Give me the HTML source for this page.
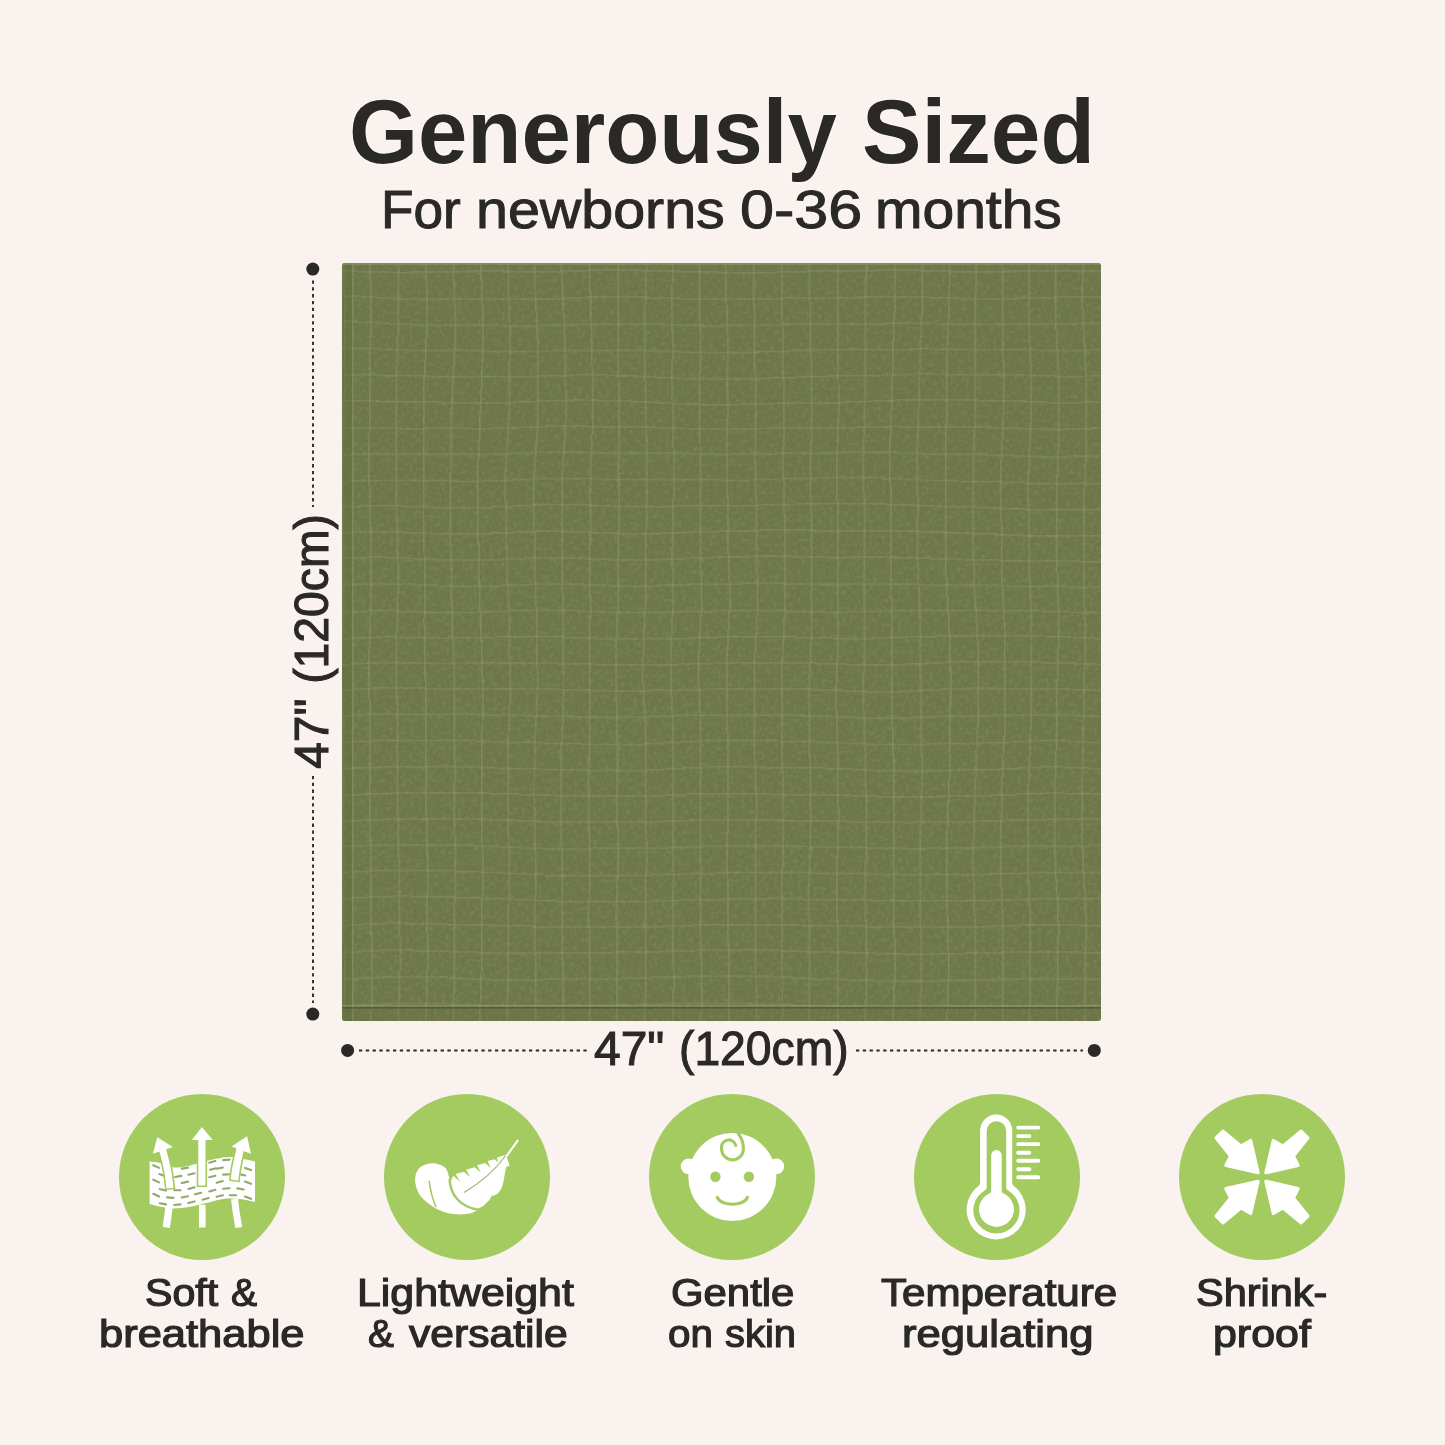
<!DOCTYPE html>
<html><head><meta charset="utf-8">
<style>
html,body{margin:0;padding:0;}
body{width:1445px;height:1445px;overflow:hidden;background:#faf2ee;position:relative;font-family:"Liberation Sans",sans-serif;color:#2a2928;}
.t{position:absolute;white-space:nowrap;line-height:1;transform-origin:0 0;text-shadow:0 0 2px #fffdf8,0 0 2px #fffdf8;}
.abs,.ic{position:absolute;}
#muslin{position:absolute;left:342px;top:263px;}
#rot{position:absolute;left:0;top:0;width:1445px;height:1445px;transform-origin:312.9px 1049.9px;transform:rotate(-90deg);}
</style></head><body>
<div class="t" style="left:349.1px;top:86.8px;font-size:90px;font-weight:bold;transform:scaleX(0.9849)">Generously</div><div class="t" style="left:862.1px;top:86.8px;font-size:90px;font-weight:bold;transform:scaleX(0.9907)">Sized</div>
<div class="t" style="left:380.7px;top:183.1px;font-size:53px;font-weight:normal;-webkit-text-stroke:1.0px #2a2928;transform:scaleX(1.004)">For</div><div class="t" style="left:475.6px;top:183.1px;font-size:53px;font-weight:normal;-webkit-text-stroke:1.0px #2a2928;transform:scaleX(1.0827)">newborns</div><div class="t" style="left:739.5px;top:183.1px;font-size:53px;font-weight:normal;-webkit-text-stroke:1.0px #2a2928;transform:scaleX(1.152)">0-36</div><div class="t" style="left:875.4px;top:183.1px;font-size:53px;font-weight:normal;-webkit-text-stroke:1.0px #2a2928;transform:scaleX(1.0751)">months</div>
<svg id="muslin" width="759" height="758" viewBox="0 0 759 758">
<defs>
 <pattern id="gp" x="0.6" y="7" width="27.47" height="26.2" patternUnits="userSpaceOnUse">
  <rect x="0" y="0" width="1.6" height="26.2" fill="#9ca477" opacity="0.36"/>
  <rect x="0" y="0" width="27.47" height="1.6" fill="#9ca477" opacity="0.3"/>
 </pattern>
 <filter id="wv" x="0" y="0" width="100%" height="100%">
  <feTurbulence type="fractalNoise" baseFrequency="0.006" numOctaves="2" seed="3" result="n"/>
  <feDisplacementMap in="SourceGraphic" in2="n" scale="10" xChannelSelector="R" yChannelSelector="G"/>
  <feGaussianBlur stdDeviation="0.45"/>
 </filter>
 <filter id="nz" x="0" y="0" width="100%" height="100%">
  <feTurbulence type="fractalNoise" baseFrequency="0.9 0.25" numOctaves="2" seed="7"/>
  <feColorMatrix type="matrix" values="0 0 0 0 0.3  0 0 0 0 0.35  0 0 0 0 0.18  0 0 0 -1.2 0.75"/>
 </filter>
 <filter id="mt" x="0" y="0" width="100%" height="100%">
  <feTurbulence type="fractalNoise" baseFrequency="0.25" numOctaves="3" seed="11"/>
  <feColorMatrix type="matrix" values="0 0 0 0 0.3  0 0 0 0 0.34  0 0 0 0 0.17  0 0 0 -2 1.1"/>
 </filter>
 <clipPath id="mc"><rect x="0" y="0" width="759" height="758" rx="3"/></clipPath>
</defs>
<g clip-path="url(#mc)">
 <rect x="0" y="0" width="759" height="758" fill="#6d7648"/>
 <rect x="-10" y="-10" width="779" height="778" fill="url(#gp)" filter="url(#wv)"/>
 <rect x="0" y="0" width="759" height="758" filter="url(#nz)" opacity="0.2"/>
 <rect x="0" y="0" width="759" height="758" filter="url(#mt)" opacity="0.35"/>
 <rect x="0" y="0" width="10" height="758" fill="#5f6c3f" opacity="0.4"/>
 <rect x="10" y="0" width="1.5" height="758" fill="#8e9a6c" opacity="0.55"/>
 <rect x="0" y="745" width="759" height="13" fill="#5f6c3f" opacity="0.15"/>
 <rect x="0" y="742" width="759" height="1.5" fill="#9aa57a" opacity="0.45"/>
 <rect x="0" y="744" width="759" height="1.6" fill="#3f4a25" opacity="0.55"/>
 <rect x="0" y="0" width="759" height="2" fill="#8d9a6a" opacity="0.6"/>
</g>
</svg>
<svg class="abs" style="left:0;top:0" width="1445" height="1445">
<g stroke="#2a2928" stroke-width="1.9" stroke-dasharray="3.3 3.5" fill="none">
 <line x1="313" y1="280.5" x2="313" y2="507"/>
 <line x1="313" y1="776" x2="313" y2="1003"/>
 <line x1="359" y1="1050.5" x2="587" y2="1050.5"/>
 <line x1="856" y1="1050.5" x2="1083" y2="1050.5"/>
</g>
<g fill="#2a2928">
 <circle cx="312.8" cy="269.1" r="6.5"/>
 <circle cx="312.8" cy="1014.1" r="6.5"/>
 <circle cx="347.6" cy="1050.4" r="6.5"/>
 <circle cx="1094.3" cy="1050.4" r="6.5"/>
</g></svg>
<div class="t" style="left:593.5px;top:1024.9px;font-size:48px;font-weight:normal;-webkit-text-stroke:1.1px #2a2928;transform:scaleX(0.9985)">47&quot;</div><div class="t" style="left:678.9px;top:1024.9px;font-size:48px;font-weight:normal;-webkit-text-stroke:1.1px #2a2928;transform:scaleX(0.9634)">(120cm)</div>
<div id="rot"><div class="t" style="left:593.5px;top:1024.9px;font-size:48px;font-weight:normal;-webkit-text-stroke:1.1px #2a2928;transform:scaleX(0.9985)">47&quot;</div><div class="t" style="left:678.9px;top:1024.9px;font-size:48px;font-weight:normal;-webkit-text-stroke:1.1px #2a2928;transform:scaleX(0.9634)">(120cm)</div></div>
<svg class="ic" style="left:119px;top:1094px" width="166" height="166" viewBox="0 0 166 166"><circle cx="83" cy="83" r="83" fill="#a3cb60"/><path d="M30.6 67.5 C32.4 67.8 37.8 68.2 41.8 69.2 C45.7 70.2 50.1 72.8 54.2 73.3 C58.4 73.9 62.5 73.2 66.7 72.5 C70.8 71.8 74.3 70.4 79.1 69.2 C84.0 67.9 90.2 66.1 95.8 65.0 C101.3 64.0 105.6 62.5 112.4 63.0 C119.1 63.4 132.1 66.8 136.0 67.5 L136.0 107.8 C133.5 107.3 126.0 105.4 120.7 104.9 C115.3 104.4 109.6 104.2 104.1 104.9 C98.5 105.6 93.0 107.7 87.4 109.1 C81.9 110.4 76.4 111.9 70.8 112.8 C65.3 113.7 59.1 114.5 54.2 114.5 C49.4 114.5 45.7 113.6 41.8 112.8 C37.8 112.0 32.4 110.4 30.6 109.9 Z" fill="#ffffff"/>
<path d="M34.3 71.2L40.1 73.9M62.7 74.6L69.0 73.7M90.2 68.8L96.4 67.1M104.2 66.1L110.6 65.6M126.0 73.9L132.0 76.1M40.4 80.1L46.4 82.3M56.1 83.0L62.4 81.9M69.4 80.8L75.6 79.2M90.2 83.3L96.4 81.7M104.2 80.6L110.6 80.2M120.1 80.0L126.3 81.6M34.3 85.7L40.1 88.4M62.7 89.0L69.0 87.6M97.6 88.7L103.8 87.0M126.0 87.6L132.0 89.8M40.7 94.9L46.9 96.6M55.2 96.2L61.6 96.2M69.4 94.9L75.6 93.3M90.2 97.4L96.4 95.8M104.2 94.8L110.6 94.2M118.3 94.4L124.6 95.5M34.3 99.8L40.1 102.5M48.1 103.4L54.5 103.9M62.7 103.5L69.0 102.2M76.0 100.3L82.2 98.7M97.6 102.7L103.9 101.3M110.8 101.2L117.2 101.2M126.0 102.6L132.0 104.8M40.7 109.3L47.0 110.4M55.2 111.0L61.6 110.4M69.4 109.1L75.6 107.4M83.5 105.7L89.7 104.1M97.6 74.8L103.9 73.5M91.0 75.8L97.2 74.2" stroke="#93a86b" stroke-width="2.1" stroke-linecap="round" fill="none"/>
<g fill="#ffffff" stroke="#a3cb60" stroke-width="3.2" paint-order="stroke" stroke-linejoin="miter">
<path d="M39.8 55.5 C40.0 56.0 40.1 56.1 40.7 58.4 C41.3 60.7 42.7 65.7 43.6 69.5 C44.5 73.3 45.3 77.2 45.9 81.4 C46.6 85.5 47.3 92.3 47.6 94.5 L54.6 93.7 C54.3 91.4 53.5 84.5 52.9 80.2 C52.2 76.0 51.3 71.9 50.4 67.9 C49.5 64.0 48.1 59.0 47.5 56.6 C46.8 54.2 46.7 54.0 46.6 53.5 Z"/><path d="M79.3 44.0 C79.3 48.3 79.3 62.1 79.3 70.0 C79.3 77.9 79.3 87.9 79.3 91.5 L86.5 91.5 C86.5 87.9 86.5 77.9 86.5 70.0 C86.5 62.1 86.5 48.3 86.5 44.0 Z"/><path d="M117.7 53.6 C117.6 54.2 117.4 54.6 116.9 57.0 C116.4 59.4 115.2 64.5 114.5 67.9 C113.8 71.4 113.1 74.9 112.6 77.8 C112.2 80.7 111.9 84.2 111.7 85.4 L119.3 86.4 C119.4 85.1 119.7 81.8 120.2 79.0 C120.6 76.2 121.2 72.9 121.9 69.5 C122.6 66.1 123.8 61.0 124.3 58.6 C124.8 56.3 125.0 55.9 125.1 55.4 Z"/>
</g>
<g fill="#ffffff">
<path d="M38.3 43.3 33.9 59.7 53.8 53.0Z"/><path d="M82.9 33.1 72.9 45.9 93.7 45.9Z"/><path d="M128.1 42.3 112.6 52.5 132.0 59.7Z"/>
<path d="M46.4 112.8 C46.2 114.4 45.6 119.3 45.1 122.7 C44.7 126.1 43.9 131.3 43.6 133.0 L50.9 134.1 C51.1 132.3 51.9 127.1 52.4 123.7 C52.8 120.3 53.4 115.3 53.6 113.7 Z"/><path d="M80.0 110.7 C80.0 114.5 80.0 129.8 80.0 133.6 L86.6 133.6 C86.6 129.8 86.6 114.5 86.6 110.7 Z"/><path d="M112.0 105.4 C112.4 107.7 113.2 114.7 113.9 119.5 C114.6 124.3 116.0 131.7 116.4 134.1 L123.3 133.0 C122.9 130.6 121.5 123.3 120.8 118.5 C120.1 113.7 119.3 106.8 119.0 104.5 Z"/>
</g></svg>
<svg class="ic" style="left:384px;top:1094px" width="166" height="166" viewBox="0 0 166 166"><circle cx="83" cy="83" r="83" fill="#a3cb60"/><g fill="#ffffff">
<path d="M65.5 84.2 C64.7 82.4 63.9 75.9 60.9 73.4 C57.9 70.9 51.9 69.1 47.6 69.2 C43.3 69.4 37.9 71.4 35.1 74.2 C32.4 77.0 31.1 81.5 31.1 85.8 C31.1 90.1 32.8 95.9 35.1 100.0 C37.5 104.0 41.1 106.9 45.1 109.9 C49.1 112.9 54.7 116.1 59.2 117.8 C63.8 119.5 68.1 120.0 72.5 120.3 C76.9 120.6 82.2 120.2 85.8 119.5 C89.4 118.7 92.7 116.4 94.1 115.7 Z"/>
<path d="M66.3 90.0 67.5 85.8 69.2 81.8 76.2 87.8 71.6 79.9 79.7 77.7 86.4 83.3 82.1 75.7 90.6 73.3 96.6 78.3 93.1 71.3 101.1 69.1 106.8 73.9 103.6 67.1 110.5 65.3 114.1 68.3 113.0 63.4 121.5 60.9 123.8 65.9 125.7 71.5 122.3 73.0 120.7 80.0 119.7 86.7 117.8 94.1 114.0 99.5 108.2 102.4 109.1 99.1 105.7 105.8 99.1 112.0 92.4 115.7 C75.8 108.3 67.5 95.8 66.3 90.0 Z"/>
<path d="M120.7 63.0 133.3 45.3 135.0 46.6 122.8 63.4 Z"/>
</g>
<path d="M65.5 84.6 C66.3 100.8 75.8 113.2 94.9 115.9" stroke="#a3cb60" stroke-width="2.4" fill="none"/>
<path d="M45.1 86.7 C46.8 99.1 49.3 107.4 52.2 113.2" stroke="#a3cb60" stroke-width="1.5" fill="none"/>
<path d="M80.0 98.5 C94.1 90.0 109.1 79.2 121.5 61.7" stroke="#97b070" stroke-width="1.1" fill="none"/></svg>
<svg class="ic" style="left:649px;top:1094px" width="166" height="166" viewBox="0 0 166 166"><circle cx="83" cy="83" r="83" fill="#a3cb60"/><g fill="#ffffff">
 <circle cx="83.3" cy="83" r="44"/>
 <circle cx="39.6" cy="72.4" r="7.8"/>
 <circle cx="127.4" cy="72.4" r="7.8"/>
</g>
<g fill="#a3cb60">
 <circle cx="66.4" cy="82.7" r="5.2"/>
 <circle cx="99.9" cy="82.7" r="5.2"/>
</g>
<path d="M68.3 103.4 C72 112.5 95 112.5 98.4 103.4" stroke="#a3cb60" stroke-width="3.2" fill="none" stroke-linecap="round"/>
<path d="M86.8 51.5 A6.9 6.9 0 0 0 72.6 55 A10.9 10.9 0 0 0 94.4 55 C94.4 49 92.8 44 89.2 39.5" stroke="#a3cb60" stroke-width="3.1" fill="none" stroke-linecap="round"/></svg>
<svg class="ic" style="left:914px;top:1094px" width="166" height="166" viewBox="0 0 166 166"><circle cx="83" cy="83" r="83" fill="#a3cb60"/><path d="M66.1 36.5 A16.05 16.05 0 0 1 98.2 36.5 L98.2 88.84 A4 4 0 0 0 99.81 92.05 A29.6 29.6 0 1 1 64.49 92.05 A4 4 0 0 0 66.1 88.84 Z" fill="#ffffff"/>
<path d="M72.7 37 A9.75 9.75 0 0 1 92.2 37 L92.2 93.53 A3 3 0 0 0 93.73 96.15 A23.1 23.1 0 1 1 71.17 96.15 A3 3 0 0 0 72.7 93.53 Z" fill="#a3cb60"/>
<path d="M77.2 61.3 A5.25 5.25 0 0 1 87.7 61.3 L87.7 96.96 A2.5 2.5 0 0 0 89.23 99.26 A17.5 17.5 0 1 1 75.67 99.26 A2.5 2.5 0 0 0 77.2 96.96 Z" fill="#ffffff"/>
<g stroke="#ffffff" stroke-width="3.9" stroke-linecap="round">
 <path d="M104.2 33.6H124.4M104.2 42.1H115.4M104.2 50.1H124.4M104.2 58.7H115.4M104.2 66.7H124.4M104.2 75.2H115.4M104.2 83.2H124.4"/>
</g></svg>
<svg class="ic" style="left:1179px;top:1094px" width="166" height="166" viewBox="0 0 166 166"><circle cx="83" cy="83" r="83" fill="#a3cb60"/><path d="M44 37.2 L62.1 52.2 L71.6 46.6 L79 78.6 L47 71.4 L51.8 62.1 L37.2 44 Z" fill="#ffffff" stroke="#ffffff" stroke-width="3.4" stroke-linejoin="round"/>
<g transform="translate(166 0) scale(-1 1)"><path d="M44 37.2 L62.1 52.2 L71.6 46.6 L79 78.6 L47 71.4 L51.8 62.1 L37.2 44 Z" fill="#ffffff" stroke="#ffffff" stroke-width="3.4" stroke-linejoin="round"/></g>
<g transform="translate(0 166) scale(1 -1)"><path d="M44 37.2 L62.1 52.2 L71.6 46.6 L79 78.6 L47 71.4 L51.8 62.1 L37.2 44 Z" fill="#ffffff" stroke="#ffffff" stroke-width="3.4" stroke-linejoin="round"/></g>
<g transform="translate(166 166) scale(-1 -1)"><path d="M44 37.2 L62.1 52.2 L71.6 46.6 L79 78.6 L47 71.4 L51.8 62.1 L37.2 44 Z" fill="#ffffff" stroke="#ffffff" stroke-width="3.4" stroke-linejoin="round"/></g></svg>

<div class="t" style="left:144.6px;top:1273.8px;font-size:38px;font-weight:normal;-webkit-text-stroke:1.2px #2a2928;transform:scaleX(1.0821)">Soft</div>
<div class="t" style="left:231.2px;top:1273.8px;font-size:38px;font-weight:normal;-webkit-text-stroke:1.2px #2a2928;transform:scaleX(1.028)">&amp;</div>
<div class="t" style="left:99.2px;top:1314.8px;font-size:38px;font-weight:normal;-webkit-text-stroke:1.2px #2a2928;transform:scaleX(1.1441)">breathable</div>
<div class="t" style="left:356.9px;top:1273.8px;font-size:38px;font-weight:normal;-webkit-text-stroke:1.2px #2a2928;transform:scaleX(1.1279)">Lightweight</div>
<div class="t" style="left:368.4px;top:1314.8px;font-size:38px;font-weight:normal;-webkit-text-stroke:1.2px #2a2928;transform:scaleX(1.02)">&amp;</div>
<div class="t" style="left:408.9px;top:1314.8px;font-size:38px;font-weight:normal;-webkit-text-stroke:1.2px #2a2928;transform:scaleX(1.1221)">versatile</div>
<div class="t" style="left:670.7px;top:1273.8px;font-size:38px;font-weight:normal;-webkit-text-stroke:1.2px #2a2928;transform:scaleX(1.1018)">Gentle</div>
<div class="t" style="left:667.7px;top:1314.8px;font-size:38px;font-weight:normal;-webkit-text-stroke:1.2px #2a2928;transform:scaleX(1.0625)">on</div>
<div class="t" style="left:725.4px;top:1314.8px;font-size:38px;font-weight:normal;-webkit-text-stroke:1.2px #2a2928;transform:scaleX(1.05)">skin</div>
<div class="t" style="left:880.6px;top:1273.8px;font-size:38px;font-weight:normal;-webkit-text-stroke:1.2px #2a2928;transform:scaleX(1.1071)">Temperature</div>
<div class="t" style="left:902.1px;top:1314.8px;font-size:38px;font-weight:normal;-webkit-text-stroke:1.2px #2a2928;transform:scaleX(1.1479)">regulating</div>
<div class="t" style="left:1196.2px;top:1273.8px;font-size:38px;font-weight:normal;-webkit-text-stroke:1.2px #2a2928;transform:scaleX(1.0915)">Shrink-</div>
<div class="t" style="left:1212.7px;top:1314.8px;font-size:38px;font-weight:normal;-webkit-text-stroke:1.2px #2a2928;transform:scaleX(1.1294)">proof</div>
</body></html>
